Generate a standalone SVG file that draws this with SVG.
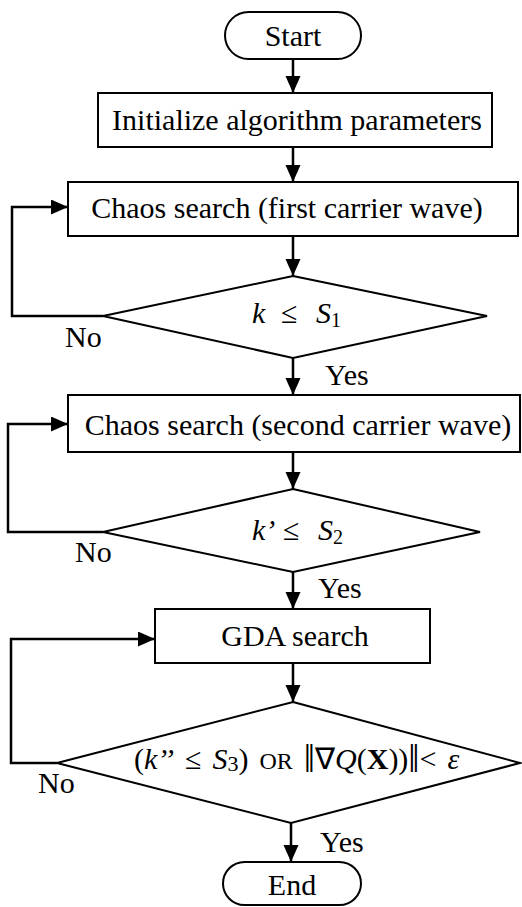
<svg xmlns="http://www.w3.org/2000/svg" width="522" height="907" viewBox="0 0 522 907">
<style>
.s{fill:#fff;stroke:#000;stroke-width:2}
.c{fill:none;stroke:#000;stroke-width:2.5}
.t{font-family:"Liberation Serif","Times New Roman",serif;font-size:30px;fill:#000}
.m{text-anchor:middle}
.i{font-style:italic}
</style>
<defs>
<marker id="ah" markerUnits="userSpaceOnUse" markerWidth="18" markerHeight="16" refX="17" refY="7.5" orient="auto">
<path d="M0,0 L17,7.5 L0,15 Z" fill="#000"/>
</marker>
</defs>
<rect width="522" height="907" fill="#fff"/>
<g id="connectors">
<line class="c" x1="293" y1="59" x2="293" y2="93" marker-end="url(#ah)"/>
<line class="c" x1="293" y1="147" x2="293" y2="182" marker-end="url(#ah)"/>
<line class="c" x1="293" y1="236" x2="293" y2="276" marker-end="url(#ah)"/>
<polyline class="c" points="103,316 12,316 12,207 68,207" marker-end="url(#ah)"/>
<line class="c" x1="293" y1="358" x2="293" y2="395" marker-end="url(#ah)"/>
<polyline class="c" points="103,532 8,532 8,424 68,424" marker-end="url(#ah)"/>
<line class="c" x1="293" y1="452" x2="293" y2="489" marker-end="url(#ah)"/>
<line class="c" x1="293" y1="572" x2="293" y2="609" marker-end="url(#ah)"/>
<polyline class="c" points="57,763 11,763 11,639 155,639" marker-end="url(#ah)"/>
<line class="c" x1="293" y1="663" x2="293" y2="702" marker-end="url(#ah)"/>
<line class="c" x1="291" y1="823" x2="291" y2="862" marker-end="url(#ah)"/>
<text class="t" x="65" y="347">No</text>
<text class="t" x="325" y="385">Yes</text>
<text class="t" x="75" y="562">No</text>
<text class="t" x="318" y="598">Yes</text>
<text class="t" x="38" y="793">No</text>
<text class="t" x="320" y="852">Yes</text>
</g>
<g id="start">
<rect class="s" x="225" y="12" width="136" height="47" rx="23.5"/>
<text class="t m" x="293" y="46">Start</text>
</g>
<g id="init">
<rect class="s" x="98" y="93" width="394" height="54"/>
<text class="t m" x="297" y="130">Initialize algorithm parameters</text>
</g>
<g id="chaos1">
<rect class="s" x="68" y="182" width="450" height="54"/>
<text class="t m" x="287" y="218">Chaos search (first carrier wave)</text>
</g>
<g id="cond1">
<polygon class="s" points="293,276 487,316 293,358 103,316"/>
<text class="t" y="323"><tspan class="i" x="252">k</tspan><tspan x="281">≤</tspan><tspan class="i" x="316">S</tspan><tspan font-size="20" dy="4">1</tspan></text>
</g>
<g id="chaos2">
<rect class="s" x="68" y="395" width="452" height="57"/>
<text class="t m" x="298" y="435">Chaos search (second carrier wave)</text>
</g>
<g id="cond2">
<polygon class="s" points="293,489 480,532 293,572 103,532"/>
<text class="t" y="540"><tspan class="i" x="252">k’</tspan><tspan x="283">≤</tspan><tspan class="i" x="318">S</tspan><tspan font-size="20" dy="4">2</tspan></text>
</g>
<g id="gda">
<rect class="s" x="155" y="609" width="275" height="54"/>
<text class="t m" x="295" y="646">GDA search</text>
</g>
<g id="cond3">
<polygon class="s" points="293,702 520,763 291,823 57,763"/>
<text class="t" x="134" y="769" word-spacing="3.5">(<tspan class="i">k’’</tspan> ≤ <tspan class="i">S</tspan><tspan font-size="22" dy="2">3</tspan><tspan dy="-2">)</tspan> <tspan font-size="24">OR</tspan> <tspan font-size="40" dy="3">‖</tspan><tspan dy="-3">∇</tspan><tspan class="i">Q</tspan>(<tspan font-weight="bold">X</tspan>))<tspan font-size="40" dy="3">‖</tspan><tspan dy="-3">&lt;</tspan> <tspan class="i">ε</tspan></text>
</g>
<g id="end">
<rect class="s" x="223" y="862" width="138" height="43" rx="21.5"/>
<text class="t m" x="292" y="895">End</text>
</g>
</svg>
